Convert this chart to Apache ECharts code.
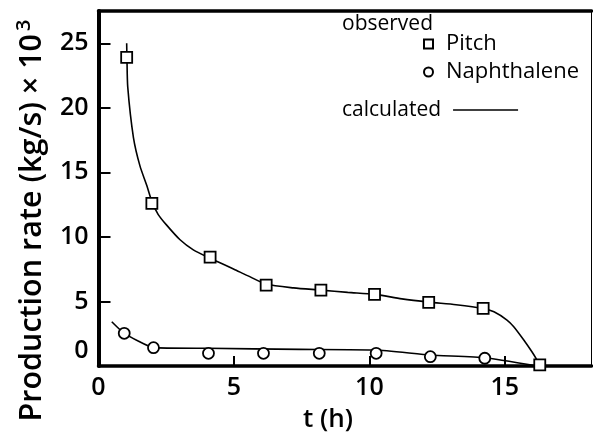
<!DOCTYPE html>
<html>
<head>
<meta charset="utf-8">
<script src="https://cdn.jsdelivr.net/npm/echarts@6/dist/echarts.min.js"></script>
<style>
  html, body { margin: 0; padding: 0; background: #fff; }
  #main { width: 593px; height: 435px; }
</style>
</head>
<body>
<div id="main"></div>
<script>
// observed points
const pitchT = [1.04, 1.97, 4.12, 6.19, 8.21, 10.19, 12.19, 14.2, 16.29];
const pitchObs = [23.9, 12.6, 8.44, 6.27, 5.88, 5.55, 4.93, 4.46, 0.08];
const naphT = [0.95, 2.03, 4.06, 6.09, 8.15, 10.25, 12.25, 14.26];
const naphObs = [2.53, 1.42, 0.98, 0.98, 0.98, 0.98, 0.72, 0.6];

// calculated curves
const pitchCalcT = [1.04, 1.05, 1.08, 1.29, 1.53, 1.78, 1.97, 2.2, 2.5, 3.0, 3.5, 4.12, 5.0, 5.5, 6.19, 7.2, 8.21, 9.2, 10.19, 11.2, 12.19, 13.2, 14.2, 14.6, 15.08, 15.33, 15.7, 16.0, 16.19, 16.29, 16.5, 18.2];
const pitchCalc = [25.0, 23.9, 21.6, 17.7, 15.5, 14.0, 12.75, 11.75, 10.95, 9.8, 9.0, 8.35, 7.5, 7.0, 6.35, 6.05, 5.88, 5.7, 5.55, 5.2, 4.95, 4.75, 4.46, 4.2, 3.56, 3.04, 2.01, 1.1, 0.46, 0.08, 0, 0];
const naphCalcT = [0.49, 0.95, 2.03, 4.0, 7.45, 10.25, 12.25, 14.26, 16.2];
const naphCalc = [3.43, 2.53, 1.42, 1.37, 1.29, 1.24, 0.85, 0.64, 0];

const FONT = 'Open Sans';

function pairs(xs, ys) {
  let out = [];
  for (let i = 0; i < xs.length; i++) {
    out.push([xs[i], ys[i]]);
  }
  return out;
}

const chart = echarts.init(document.getElementById('main'));

const markerStyle = { color: '#fff', borderColor: '#000', borderWidth: 1.8, opacity: 1 };
const calcLine = { color: '#000', width: 1.6 };

const option = {
  backgroundColor: '#fff',
  animation: false,
  textStyle: { fontFamily: FONT, color: '#000' },
  grid: {
    left: 98.5, right: 1.5, top: 11, bottom: 69,
    outerBoundsMode: 'none',
    containLabel: false,
    show: true, borderColor: '#000', borderWidth: 1
  },
  graphic: [
    {
      type: 'text', left: 342, top: 14,
      style: { text: 'observed', font: '500 21px "Open Sans"', fill: '#000' }
    }
  ],
  legend: [
    {
      data: ['Pitch', 'Naphthalene'],
      orient: 'vertical',
      left: 418, top: 28,
      itemWidth: 9, itemHeight: 9,
      itemGap: 6,
      textStyle: { fontFamily: FONT, fontSize: 22, fontWeight: 500, lineHeight: 22, color: '#000', padding: [0, 0, 0, 8] }
    },
    {
      data: ['calculated'],
      align: 'right',
      left: 337, top: 94,
      itemWidth: 65, itemHeight: 14,
      itemStyle: { opacity: 0 },
      lineStyle: { color: '#000', width: 1.6 },
      textStyle: { fontFamily: FONT, fontSize: 21, fontWeight: 500, lineHeight: 22, color: '#000', padding: [0, 7, 0, 0] }
    }
  ],
  xAxis: [
    {
      type: 'value',
      min: 0, max: 18.2, interval: 5,
      name: 't (h)',
      nameLocation: 'middle',
      nameGap: 41,
      nameTextStyle: { fontFamily: FONT, fontSize: 26, fontWeight: 600, color: '#000', padding: [0, 34, 0, 0] },
      axisLine: { lineStyle: { color: '#000', width: 3.5 } },
      axisTick: { inside: true, length: 10, lineStyle: { color: '#000', width: 2 } },
      axisLabel: { fontFamily: FONT, fontSize: 25, fontWeight: 600, color: '#000', margin: 9, showMaxLabel: false },
      splitLine: { show: false }
    },
    {
      type: 'value',
      position: 'top',
      min: 0, max: 18.2,
      axisLine: { show: true, lineStyle: { color: '#000', width: 3.5 } },
      axisTick: { show: false },
      axisLabel: { show: false },
      splitLine: { show: false }
    }
  ],
  yAxis: {
    type: 'value',
    min: 0, max: 27.5, interval: 5,
    name: 'Production rate (kg/s) × 10{sup|3}',
    nameLocation: 'middle',
    nameGap: 48,
    nameTextStyle: {
      fontFamily: FONT, fontSize: 30.5, fontWeight: 600, color: '#000',
      padding: [0, 64, 0, 0],
      rich: { sup: { fontFamily: FONT, fontSize: 20, fontWeight: 600, color: '#000', padding: [0, 0, 16, 3] } }
    },
    axisLine: { lineStyle: { color: '#000', width: 4 } },
    axisTick: { inside: true, length: 12, lineStyle: { color: '#000', width: 2 } },
    axisLabel: {
      fontFamily: FONT, fontSize: 25, fontWeight: 600, color: '#000', margin: 10, showMaxLabel: false,
      formatter: function (v) { return v === 0 ? '{z|0}' : String(v); },
      rich: { z: { fontFamily: FONT, fontSize: 25, fontWeight: 600, color: '#000', padding: [0, 0, 30, 0] } }
    },
    splitLine: { show: false }
  },
  series: [
    {
      name: 'calculated',
      type: 'line',
      data: pairs(pitchCalcT, pitchCalc),
      symbol: 'none',
      smooth: 0.25,
      lineStyle: calcLine,
      itemStyle: { color: '#000' },
      z: 2
    },
    {
      name: 'calculated',
      type: 'line',
      data: pairs(naphCalcT, naphCalc),
      symbol: 'none',
      smooth: 0.15,
      lineStyle: calcLine,
      itemStyle: { color: '#000' },
      z: 2
    },
    {
      name: 'Pitch',
      type: 'scatter',
      symbol: 'rect',
      symbolSize: 11,
      data: pairs(pitchT, pitchObs),
      itemStyle: markerStyle,
      clip: false,
      z: 5
    },
    {
      name: 'Naphthalene',
      type: 'scatter',
      symbol: 'circle',
      symbolSize: 11,
      data: pairs(naphT, naphObs),
      itemStyle: markerStyle,
      clip: false,
      z: 5
    }
  ]
};

chart.setOption(option);
</script>
</body>
</html>
